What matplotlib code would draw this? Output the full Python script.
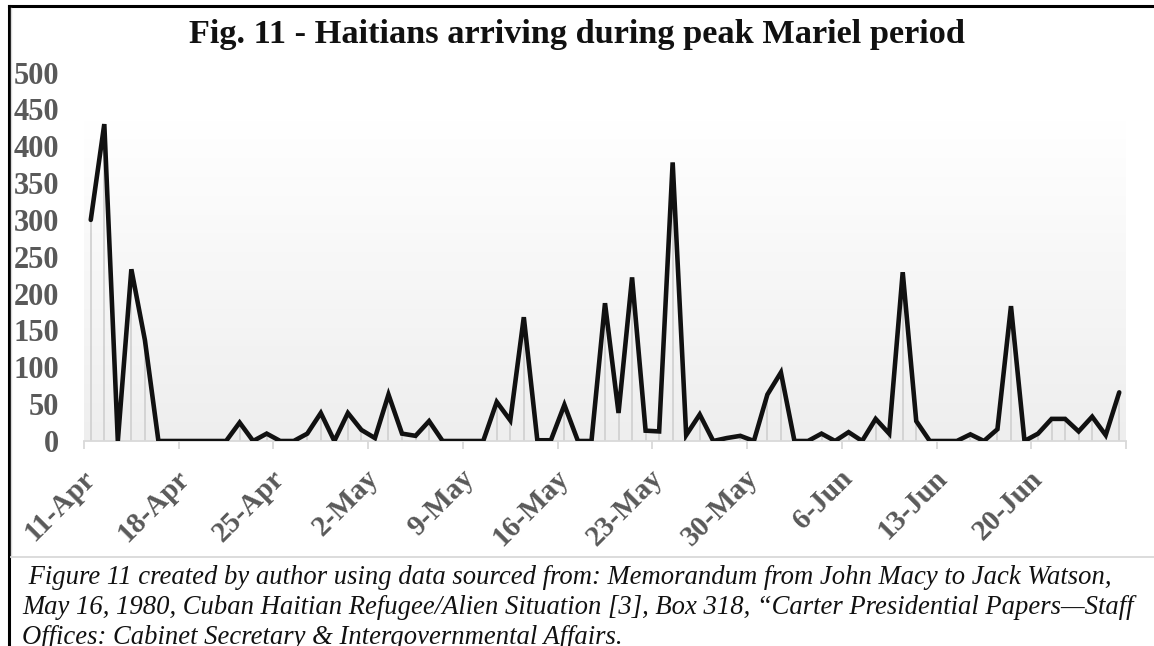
import numpy as np
import pandas as pd
import matplotlib
matplotlib.use("Agg")
import matplotlib.pyplot as plt
from matplotlib.lines import Line2D
from matplotlib.colors import LinearSegmentedColormap

# Daily arrivals, 11 April - 26 June 1980
start_date = "1980-04-11"
arrivals = [300, 430, 0, 233, 137, 0, 0, 0, 0, 0, 0, 25, 0, 10, 0, 0, 10, 38, 0, 38,
            15, 4, 63, 10, 7, 27, 0, 0, 0, 0, 53, 28, 168, 1, 1, 49, 0, 0, 187, 38,
            222, 14, 13, 378, 8, 36, 0, 4, 7, 0, 63, 93, 0, 0, 10, 0, 12, 0, 30, 10,
            229, 27, 0, 0, 0, 9, 0, 16, 183, 0, 10, 30, 30, 13, 33, 8, 66]
yticks = [0, 50, 100, 150, 200, 250, 300, 350, 400, 450, 500]
title = "Fig. 11 - Haitians arriving during peak Mariel period"
caption_lines = [
    " Figure 11 created by author using data sourced from: Memorandum from John Macy to Jack Watson,",
    "May 16, 1980, Cuban Haitian Refugee/Alien Situation [3], Box 318, \u201cCarter Presidential Papers\u2014Staff",
    "Offices: Cabinet Secretary & Intergovernmental Affairs.",
]

dates = pd.date_range(start_date, periods=len(arrivals), freq="D")
x = np.arange(len(arrivals))
label_idx = x[::7]
labels = [f"{d.day}-{d.strftime('%b')}" for d in dates[label_idx]]

W, H = 1154, 646
fig = plt.figure(figsize=(W / 100, H / 100), dpi=100)
fig.patch.set_facecolor("white")

ax = fig.add_axes([84 / W, 205 / H, (1126 - 84) / W, 368.5 / H])
ax.set_facecolor("none")
ax.set_xlim(-0.5, len(arrivals) - 0.5)
ax.set_ylim(0, 500)

# soft vertical gradient behind the series
grad = np.linspace(0, 1, 256).reshape(-1, 1)
cmap = LinearSegmentedColormap.from_list("g", ["#eeeeee", "#ffffff"])
ax.imshow(grad, cmap=cmap, origin="lower", aspect="auto",
          extent=[-0.5, len(arrivals) - 0.5, 0, 435], zorder=0)

# drop lines from each point to the axis
ax.vlines(x, 0, arrivals, color="#cfcfcf", linewidth=1.2, zorder=1)
ax.plot(x, arrivals, color="#111111", linewidth=3.3, solid_joinstyle="miter",
        solid_capstyle="round", zorder=3)

for s in ["top", "right", "left"]:
    ax.spines[s].set_visible(False)
ax.spines["bottom"].set_color("#d9d9d9")
ax.spines["bottom"].set_linewidth(1.3)

serif = "Liberation Serif"
ax.set_yticks(yticks)
ax.set_yticklabels([str(v) for v in yticks], fontfamily=serif, fontweight="bold",
                   fontsize=22, color="#595959")
ax.tick_params(axis="y", length=0, pad=18)

ax.set_xticks(np.arange(-0.5, len(arrivals), 7))
ax.set_xticklabels([])
ax.tick_params(axis="x", which="major", length=6, width=1.3, color="#d9d9d9", direction="out")
ax.set_xticks(label_idx, minor=True)
ax.set_xticklabels(labels, minor=True, fontfamily=serif, fontweight="bold",
                   fontsize=21, color="#595959", rotation=45, ha="right",
                   va="center", rotation_mode="anchor")
ax.tick_params(axis="x", which="minor", length=0, pad=24)

fig.text(0.5, 1 - 35 / H, title, ha="center", va="center", fontfamily=serif,
         fontweight="bold", fontsize=24.7, color="#111111")

# caption below the chart
cap_x = [22 / W, 22 / W, 22 / W]
cap_y = [584, 614, 644]
for line, cx, cy in zip(caption_lines, cap_x, cap_y):
    fig.text(cx, 1 - cy / H, line, ha="left", va="baseline", fontfamily=serif,
             fontstyle="italic", fontsize=19.2, color="#111111")

# frame lines
fig.add_artist(Line2D([9 / W, 1], [1 - 6 / H, 1 - 6 / H], color="black", linewidth=2.2,
                      transform=fig.transFigure))
fig.add_artist(Line2D([9 / W, 9 / W], [0, 1 - 6 / H], color="black", linewidth=2.2,
                      transform=fig.transFigure))
fig.add_artist(Line2D([11.5 / W, 11.5 / W], [1 - 557 / H, 1 - 8 / H], color="#d9d9d9",
                      linewidth=1.0, transform=fig.transFigure))
fig.add_artist(Line2D([11.5 / W, 1], [1 - 557 / H, 1 - 557 / H], color="#d9d9d9",
                      linewidth=1.3, transform=fig.transFigure))

fig.savefig("out.png", dpi=100)
